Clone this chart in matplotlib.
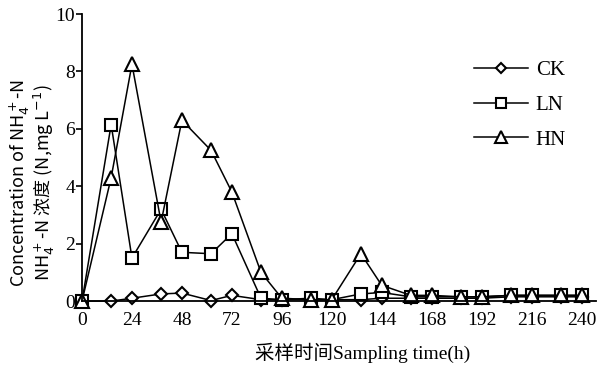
import matplotlib
matplotlib.use("Agg")
from matplotlib import pyplot as plt

# sampling times (h)
hours = [0, 14, 24, 38, 48, 62, 72, 86, 96, 110, 120, 134, 144, 158, 168, 182, 192, 206, 216, 230, 240]

ck = [0.0, 0.0, 0.1, 0.25, 0.28, 0.02, 0.2, 0.05, 0.05, 0.05, 0.05, 0.05, 0.1,
      0.1, 0.1, 0.1, 0.1, 0.15, 0.15, 0.15, 0.15]
ln = [0.0, 6.15, 1.5, 3.2, 1.7, 1.65, 2.35, 0.1, 0.05, 0.1, 0.05, 0.25, 0.3,
      0.15, 0.15, 0.15, 0.15, 0.2, 0.2, 0.2, 0.2]
hn = [0.0, 4.3, 8.25, 2.75, 6.3, 5.25, 3.8, 1.0, 0.1, 0.05, 0.05, 1.65, 0.55,
      0.2, 0.2, 0.15, 0.15, 0.2, 0.2, 0.2, 0.2]

xticks = list(range(0, 241, 24))
yticks = [0, 2, 4, 6, 8, 10]

plt.rcParams['mathtext.fontset'] = 'dejavusans'
serif = ['Liberation Serif', 'Noto Sans CJK SC']

fig = plt.figure(figsize=(6.12, 3.69), dpi=100)
ax = fig.add_axes([0.134, 0.184, 0.84, 0.778])

style = dict(color='black', lw=1.1, mfc='white', mec='black', mew=1.5, clip_on=False)
ax.plot(hours, ck, marker='D', ms=6, label='CK', **style)
ax.plot(hours, ln, marker='s', ms=9, label='LN', **style)
ax.plot(hours, hn, marker='^', ms=9.5, label='HN', **style)

ax.set_xlim(0, 247)
ax.set_ylim(0, 10)
ax.set_xticks(xticks)
ax.set_yticks(yticks)
ax.spines['top'].set_visible(False)
ax.spines['right'].set_visible(False)
ax.spines['left'].set_linewidth(1.3)
ax.spines['bottom'].set_linewidth(1.3)
ax.tick_params(axis='x', length=0, pad=8)
ax.tick_params(axis='y', length=4, width=1.2, pad=1)
for lab in ax.get_xticklabels() + ax.get_yticklabels():
    lab.set_family(serif)
    lab.set_fontsize(14)

leg = ax.legend(loc='upper left', bbox_to_anchor=(0.775, 0.835), bbox_transform=fig.transFigure,
                frameon=False, handlelength=2.6, handletextpad=0.35, labelspacing=0.72,
                borderpad=0, borderaxespad=0, markerscale=0.85,
                prop={'family': serif, 'size': 15})

fig.text(0.593, 0.045, '采样时间Sampling time(h)', ha='center', va='center',
         family=serif, fontsize=14)

fig.text(0.033, 0.505, 'Concentration of NH$_4^+$-N', rotation=90, ha='center', va='center',
         family='Noto Sans CJK SC', fontsize=13)
fig.text(0.072, 0.505, 'NH$_4^+$-N 浓度 (N,mg L$^{-1}$)', rotation=90, ha='center', va='center',
         family='Noto Sans CJK SC', fontsize=13)

fig.savefig('out.png', dpi=100)
